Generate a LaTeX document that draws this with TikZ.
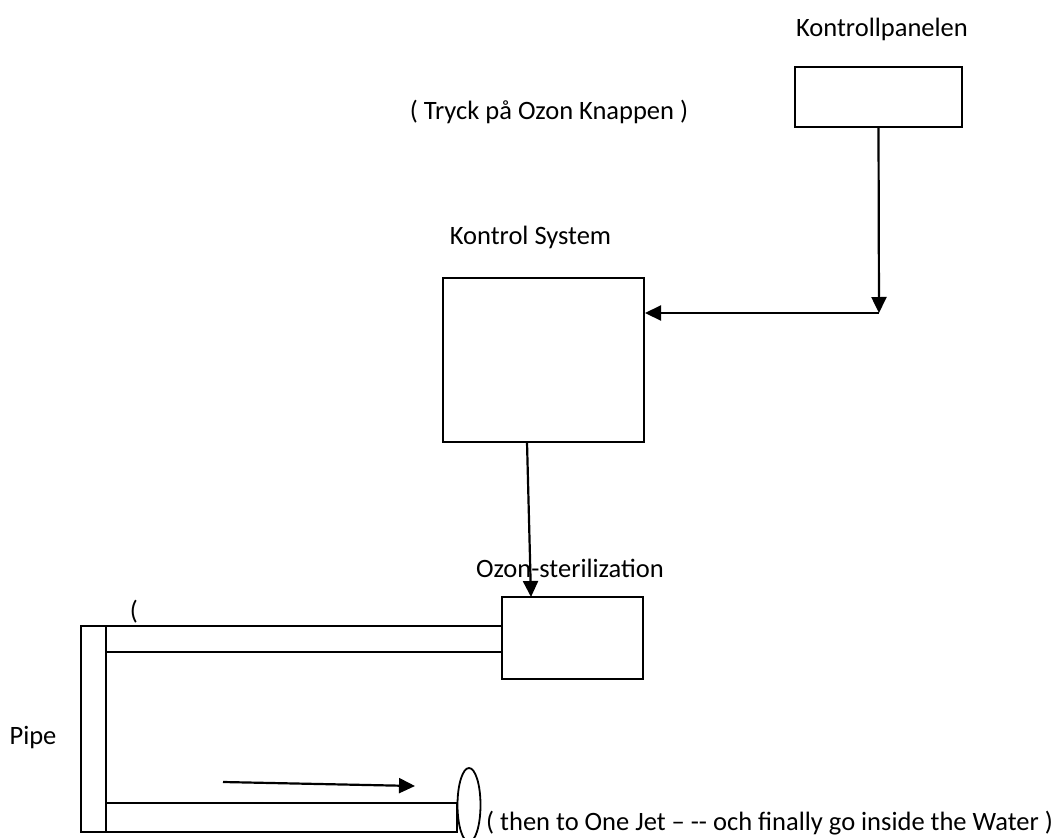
\documentclass[tikz,border=0pt]{standalone}
\usepackage{fontspec}
\setmainfont{Carlito}
\usetikzlibrary{arrows.meta,shapes.geometric}
\tikzset{
  box/.style={draw=black, line width=2pt, fill=white, inner sep=0pt},
  pipepart/.style={draw=black, line width=1.8pt, inner sep=0pt},
  arr/.style={draw=black, line width=2.2pt, -{Triangle[length=16pt,width=15pt]}},
  lbl/.style={inner sep=0pt, font=\fontsize{26.5}{31}\selectfont}
}
\begin{document}
\begin{tikzpicture}[x=1pt,y=-1pt]
\useasboundingbox (0,0) rectangle (1058,838);
% boxes
\node[box, minimum width=167pt, minimum height=60pt] (cp) at (878.5,97) {};
\node[box, minimum width=201pt, minimum height=164pt] (ks) at (543.5,360) {};
\node[box, minimum width=141pt, minimum height=82pt] (oz) at (572.5,638) {};
% pipe
\node[pipepart, minimum width=25pt, minimum height=206pt] (pv) at (93.5,729) {};
\node[pipepart, minimum width=396pt, minimum height=26pt] (pt) at (304,639) {};
\node[pipepart, minimum width=351pt, minimum height=29pt] (pb) at (281.5,817.5) {};
\node[pipepart, ellipse, minimum width=23pt, minimum height=74pt] (jet) at (469,805) {};
% labels
\node[lbl, anchor=base] (tcp) at (882,36) {Kontrollpanelen};
\node[lbl, anchor=base] (ttr) at (549,119) {( Tryck på Ozon Knappen )};
\node[lbl, anchor=base] (tks) at (530.5,244) {Kontrol System};
\node[lbl, anchor=base] (toz) at (570,577) {Ozon-sterilization};
\node[lbl, anchor=base] (tpipe) at (33,744) {Pipe};
\node[lbl, anchor=base] (tpar) at (134,619) {(};
\node[lbl, anchor=base west] (tbot) at (486,830) {( then to One Jet – -{}- och finally go inside the Water )};
% connectors
\coordinate (corner) at (879,313);
\draw[arr] (cp.south) -- (corner);
\draw[arr] (corner) -- (corner -| ks.east);
\coordinate (ksout) at (527,442);
\coordinate (ozin) at (531,597);
\draw[arr] (ksout) -- (ozin);
\coordinate (fa) at (223,782);
\coordinate (fb) at (415,786);
\draw[arr] (fa) -- (fb);
\end{tikzpicture}
\end{document}
